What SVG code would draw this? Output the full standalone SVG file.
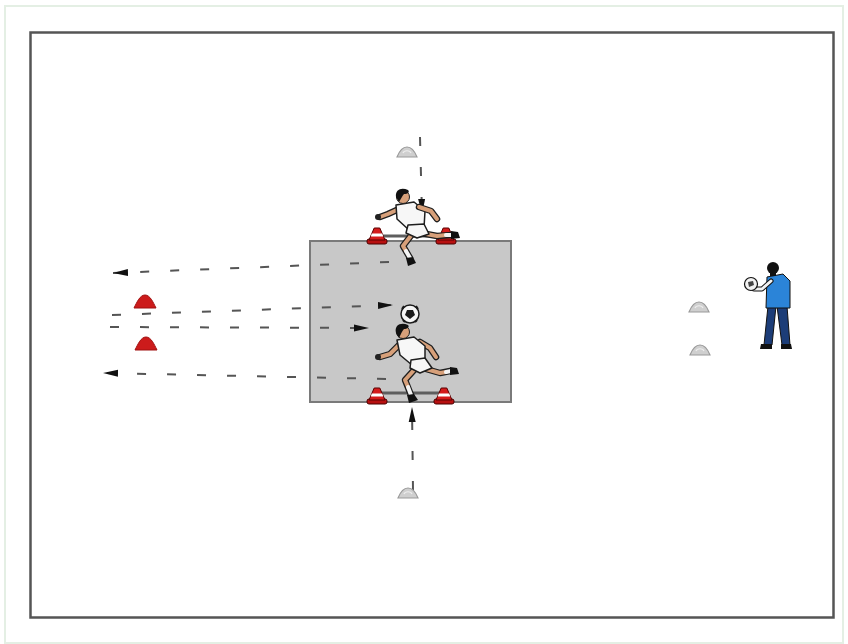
<svg xmlns="http://www.w3.org/2000/svg" width="848" height="644" viewBox="0 0 848 644">
  <style>
    .frame { fill: #ffffff; stroke: #e4efe4; stroke-width: 2; }
    .field { fill: #ffffff; stroke: #555555; stroke-width: 2.5; }
    .box { fill: #c8c8c8; stroke: #7a7a7a; stroke-width: 2; }
    .run { fill: none; stroke: #555555; stroke-width: 2; stroke-dasharray: 9 21; marker-end: url(#arrow); }
    .bar { stroke: #5e5e5e; stroke-width: 3; }
    .outline { fill: none; stroke: #1e1e1e; stroke-width: 6.5; stroke-linecap: round; stroke-linejoin: round; }
    .skin { fill: none; stroke: #d7a07a; stroke-width: 4; stroke-linecap: round; stroke-linejoin: round; }
    .sock { fill: none; stroke: #f4f4f4; stroke-width: 4; stroke-linecap: round; }
    .kit { fill: #f7f7f7; stroke: #1e1e1e; stroke-width: 1.5; stroke-linejoin: round; }
    .shoe { fill: #111111; }
    .hair { fill: #111111; }
    .face { fill: #d7a07a; stroke: #1e1e1e; stroke-width: 1; }
  </style>
  <defs>
    <marker id="arrow" markerUnits="userSpaceOnUse" markerWidth="16" markerHeight="8" refX="15" refY="4" orient="auto">
      <path d="M0,0.5 L15,4 L0,7.5 Z" fill="#111111"/>
    </marker>
    <!-- flat training marker, grey -->
    <symbol id="disc-grey" overflow="visible">
      <path d="M-10,5 C-8,0 -5,-5 0,-5 C5,-5 8,0 10,5 Z" fill="#cfcfcf" stroke="#9a9a9a" stroke-width="1.2"/>
      <path d="M-4,1 C-3,-2 3,-2 4,1" fill="none" stroke="#eeeeee" stroke-width="1.2"/>
    </symbol>
    <!-- flat training marker, red -->
    <symbol id="disc-red" overflow="visible">
      <path d="M-11,6 C-8,0 -5,-7 0,-7 C5,-7 8,0 11,6 Z" fill="#cc1b1b" stroke="#a01010" stroke-width="1"/>
    </symbol>
    <!-- hurdle cone -->
    <symbol id="cone" overflow="visible">
      <rect x="-10" y="-5" width="20" height="5" rx="2" fill="#b81010" stroke="#4a0000" stroke-width="1"/>
      <path d="M-2.8,-16 L2.8,-16 L8,-4 L-8,-4 Z" fill="#d41c1c" stroke="#5a0000" stroke-width="1"/>
      <path d="M-5.2,-10.5 L5.2,-10.5 L6.3,-7.5 L-6.3,-7.5 Z" fill="#ffffff"/>
    </symbol>
  </defs>

  <rect class="frame" x="5" y="6" width="838" height="637"/>
  <rect class="field" x="30.5" y="32.5" width="803" height="585"/>

  <g id="grid-square">
    <rect class="box" x="310" y="241" width="201" height="161"/>
  </g>

  <g id="connectors">
    <path class="run" d="M389,262 L113,273"/>
    <path class="run" d="M112,315 L393,305"/>
    <path class="run" d="M110,327 L369,328"/>
    <path class="run" d="M386,379 L103,373"/>
    <path class="run" d="M420,137 L422,214"/>
    <path class="run" d="M413,490 L412,407"/>
  </g>

  <g id="marker-top"><use href="#disc-grey" x="407" y="152"/></g>
  <g id="marker-bottom"><use href="#disc-grey" x="408" y="493"/></g>
  <g id="marker-right-1"><use href="#disc-grey" x="699" y="307"/></g>
  <g id="marker-right-2"><use href="#disc-grey" x="700" y="350"/></g>
  <g id="marker-red-1"><use href="#disc-red" x="145" y="302"/></g>
  <g id="marker-red-2"><use href="#disc-red" x="146" y="344"/></g>

  <g id="hurdle-top">
    <line class="bar" x1="377" y1="236" x2="446" y2="236"/>
    <use href="#cone" x="377" y="244"/>
    <use href="#cone" x="446" y="244"/>
  </g>

  <g id="hurdle-bottom">
    <line class="bar" x1="377" y1="393" x2="444" y2="393"/>
    <use href="#cone" x="377" y="404"/>
    <use href="#cone" x="444" y="404"/>
  </g>

  <!-- player jumping the upper hurdle -->
  <g id="player-top">
    <polyline class="outline" points="421,233 437,236 452,235"/>
    <polyline class="skin" points="421,233 437,236 446,235"/>
    <polyline class="sock" points="446,235 452,235"/>
    <path class="shoe" d="M451,231 L458,232 L460,238 L451,239 Z"/>
    <polyline class="outline" points="413,233 403,246 410,258"/>
    <polyline class="skin" points="413,233 403,246 406,251"/>
    <polyline class="sock" points="406,251 410,258"/>
    <path class="shoe" d="M406,258 L413,257 L416,263 L408,266 Z"/>
    <polyline class="outline" points="399,209 388,214 380,217"/>
    <polyline class="skin" points="399,209 388,214 380,217"/>
    <circle cx="378" cy="217" r="3" fill="#222222"/>
    <polygon class="kit" points="396,205 414,202 425,211 424,228 409,230 397,219"/>
    <polygon class="kit" points="408,225 424,224 429,234 417,238 406,233"/>
    <polyline class="outline" points="419,207 431,211 437,219"/>
    <polyline class="skin" points="419,207 431,211 437,219"/>
    <circle class="face" cx="403" cy="197" r="6.5"/>
    <path class="hair" d="M396,197 C395,189 402,187 408,190 C410,192 408,194 404,194 C402,196 401,199 399,202 Z"/>
  </g>

  <!-- player heading the ball over the lower hurdle -->
  <g id="player-bottom">
    <circle cx="410" cy="314" r="9" fill="#f5f5f5" stroke="#1a1a1a" stroke-width="1.5"/>
    <path d="M407,310 L413,310 L415,315 L410,319 L405,315 Z" fill="#1a1a1a"/>
    <path d="M402,309 L404,306 M418,309 L416,306 M403,320 L405,322 M417,320 L415,322" stroke="#1a1a1a" stroke-width="2"/>
    <polyline class="outline" points="426,369 440,373 450,371"/>
    <polyline class="skin" points="426,369 440,373 446,372"/>
    <polyline class="sock" points="446,372 451,371"/>
    <path class="shoe" d="M450,367 L457,368 L459,374 L450,375 Z"/>
    <polyline class="outline" points="415,369 405,380 411,395"/>
    <polyline class="skin" points="415,369 405,380 408,387"/>
    <polyline class="sock" points="408,387 411,395"/>
    <path class="shoe" d="M407,395 L414,394 L418,400 L409,403 Z"/>
    <polyline class="outline" points="399,345 390,354 380,357"/>
    <polyline class="skin" points="399,345 390,354 380,357"/>
    <circle cx="378" cy="357" r="3" fill="#222222"/>
    <polyline class="outline" points="420,342 430,348 436,357"/>
    <polyline class="skin" points="420,342 430,348 436,357"/>
    <polygon class="kit" points="397,340 414,337 425,346 425,361 412,365 400,355"/>
    <polygon class="kit" points="411,360 425,358 432,368 420,373 410,368"/>
    <circle class="face" cx="403" cy="332" r="6.5"/>
    <path class="hair" d="M396,333 C394,325 401,322 408,325 C410,327 407,329 404,329 C402,331 401,334 399,338 Z"/>
  </g>

  <!-- coach serving the ball -->
  <g id="coach">
    <path d="M768,306 L776,306 L772,345 L764,345 Z" fill="#1c3d78" stroke="#111111" stroke-width="1"/>
    <path d="M777,306 L787,306 L790,345 L782,345 Z" fill="#1c3d78" stroke="#111111" stroke-width="1"/>
    <path d="M761,344 L772,344 L772,349 L760,349 Z" fill="#111111"/>
    <path d="M781,344 L791,344 L792,349 L781,349 Z" fill="#111111"/>
    <path d="M767,277 L783,274 L790,281 L790,308 L766,308 Z" fill="#2b84d8" stroke="#111111" stroke-width="1"/>
    <path d="M771,281 L762,289 L754,289" fill="none" stroke="#111111" stroke-width="5" stroke-linecap="round" stroke-linejoin="round"/>
    <path d="M771,281 L762,289 L754,289" fill="none" stroke="#f2f2f2" stroke-width="3" stroke-linecap="round" stroke-linejoin="round"/>
    <circle cx="751" cy="284" r="6.5" fill="#f2f2f2" stroke="#111111" stroke-width="1.2"/>
    <path d="M748,282 L753,281 L754,285 L749,287 Z" fill="#444444"/>
    <circle cx="773" cy="268" r="6" fill="#111111"/>
    <rect x="770" y="272" width="6" height="4" fill="#111111"/>
  </g>
</svg>
